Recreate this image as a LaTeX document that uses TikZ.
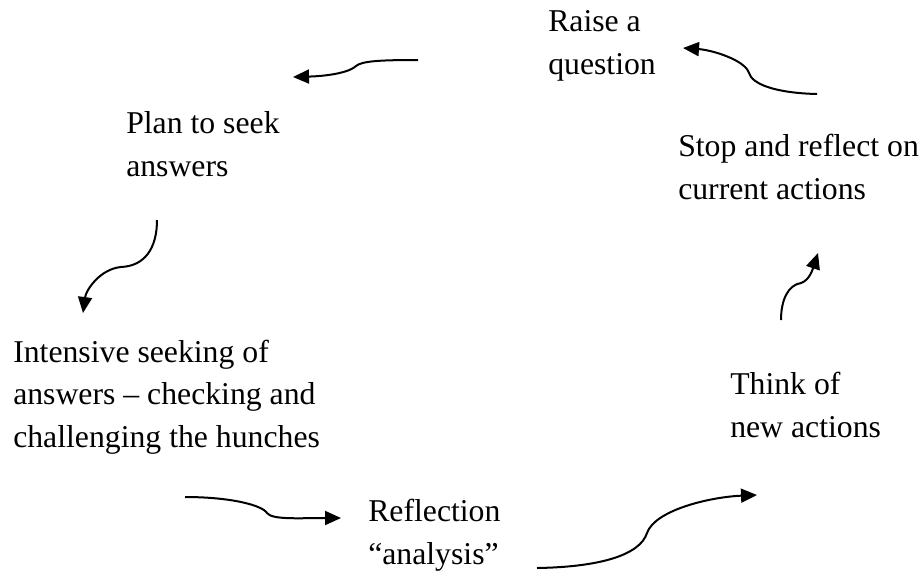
\documentclass[tikz,border=0pt]{standalone}
\usepackage{fontspec}
\setmainfont{Liberation Serif}
\usetikzlibrary{arrows.meta}
\begin{document}
\begin{tikzpicture}[x=0.75pt,y=-0.75pt,
  stage/.style={anchor=base west,inner sep=0pt,align=left,
    font=\fontsize{23.8pt}{31.6pt}\selectfont},
  flow/.style={line width=1.5pt,-{Triangle[length=12pt,width=10.5pt]}}]
\useasboundingbox (0,0) rectangle (923,572);

% stages of the cycle (anchored at the baseline of the last line)
\node[stage] (raise)   at (548,74)  {Raise a\\question};
\node[stage] (plan)    at (126,176) {Plan to seek\\answers};
\node[stage] (stop)    at (678,199) {Stop and reflect on\\current actions};
\node[stage] (seek)    at (13,447)  {Intensive seeking of\\answers – checking and\\challenging the hunches};
\node[stage] (think)   at (730,437) {Think of\\new actions};
\node[stage] (reflect) at (368,564) {Reflection\\“analysis”};

% end points of the curved arrows
\coordinate (a1s) at (418,60);  \coordinate (a1e) at (293,77);
\coordinate (a2s) at (817,94);  \coordinate (a2e) at (683,48);
\coordinate (a3s) at (157,220); \coordinate (a3e) at (83,313);
\coordinate (a4s) at (781,320); \coordinate (a4e) at (818,253);
\coordinate (a5s) at (185,497); \coordinate (a5e) at (341,518);
\coordinate (a6s) at (537,568); \coordinate (a6e) at (757,495);

% curved arrows between the stages
\draw[flow] (a1s) .. controls (380,60) and (362,61) .. (356,66)
  .. controls (350,72) and (330,76) .. (a1e);
\draw[flow] (a2s) .. controls (775,93) and (752,84) .. (749,73)
  .. controls (745,60) and (712,50) .. (a2e);
\draw[flow] (a3s) .. controls (157,248) and (145,266) .. (121,267)
  .. controls (100,269) and (86,290) .. (a3e);
\draw[flow] (a4s) .. controls (781,300) and (788,285) .. (801,283)
  .. controls (810,280) and (813,268) .. (a4e);
\draw[flow] (a5s) .. controls (230,497) and (262,505) .. (267,513)
  .. controls (272,520) and (300,518) .. (a5e);
\draw[flow] (a6s) .. controls (600,567) and (640,555) .. (647,533)
  .. controls (655,510) and (710,497) .. (a6e);
\end{tikzpicture}
\end{document}
